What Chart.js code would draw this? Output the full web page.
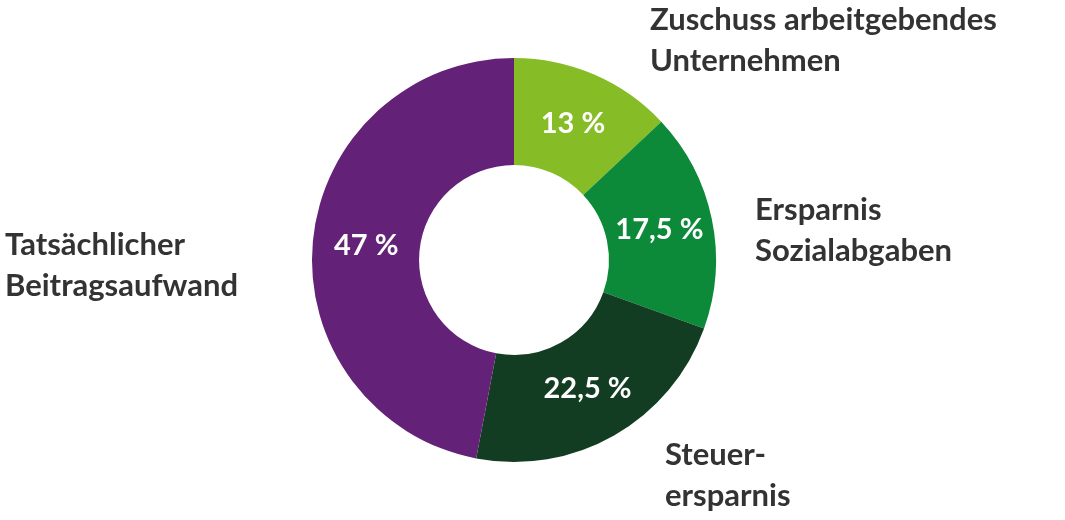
<!DOCTYPE html>
<html><head><meta charset="utf-8">
<script src="https://cdn.jsdelivr.net/npm/chart.js@4/dist/chart.umd.min.js"></script>
<style>html,body{margin:0;background:#fff}#w{width:1065px;height:520px}</style>
</head><body><div id="w"><canvas id="c"></canvas></div>
<script>
const categories = [["Zuschuss arbeitgebendes","Unternehmen"],["Ersparnis","Sozialabgaben"],["Steuer-","ersparnis"],["Tatsächlicher","Beitragsaufwand"]];
const values = [13, 17.5, 22.5, 47];
const valueLabels = ["13 %","17,5 %","22,5 %","47 %"];
const colors = ["#86bc25","#0c8a3a","#123d22","#632277"];
const labelPos = [[136,-240,"left"],[241,-50,"left"],[151,195,"left"],[-509,-15,"left"]];
const plug = {id:'lbl', afterDraw(ch){
  const ctx=ch.ctx, meta=ch.getDatasetMeta(0);
  ctx.save();
  meta.data.forEach((a,i)=>{
    const mid=(a.startAngle+a.endAngle)/2, r=(a.innerRadius+a.outerRadius)/2;
    ctx.fillStyle='#fff'; ctx.font='bold 29px Lato'; ctx.textAlign='center'; ctx.textBaseline='middle';
    ctx.fillText(valueLabels[i], a.x+Math.cos(mid)*r, a.y+Math.sin(mid)*r);
    const p=labelPos[i];
    ctx.fillStyle='#333'; ctx.font='bold 31px Lato'; ctx.textAlign=p[2];
    categories[i].forEach((t,j)=>ctx.fillText(t, a.x+p[0], a.y+p[1]+j*41));
  });
  ctx.restore();
}};
new Chart(document.getElementById('c'),{type:'doughnut',
 data:{labels:categories.map(c=>c.join(' ')),datasets:[{data:values,backgroundColor:colors,borderWidth:0}]},
 options:{responsive:true,maintainAspectRatio:false,animation:false,cutout:'47%',
  layout:{padding:{left:312,right:349,top:58,bottom:58}},
  plugins:{legend:{display:false},tooltip:{enabled:false}}},
 plugins:[plug]});
</script></body></html>
